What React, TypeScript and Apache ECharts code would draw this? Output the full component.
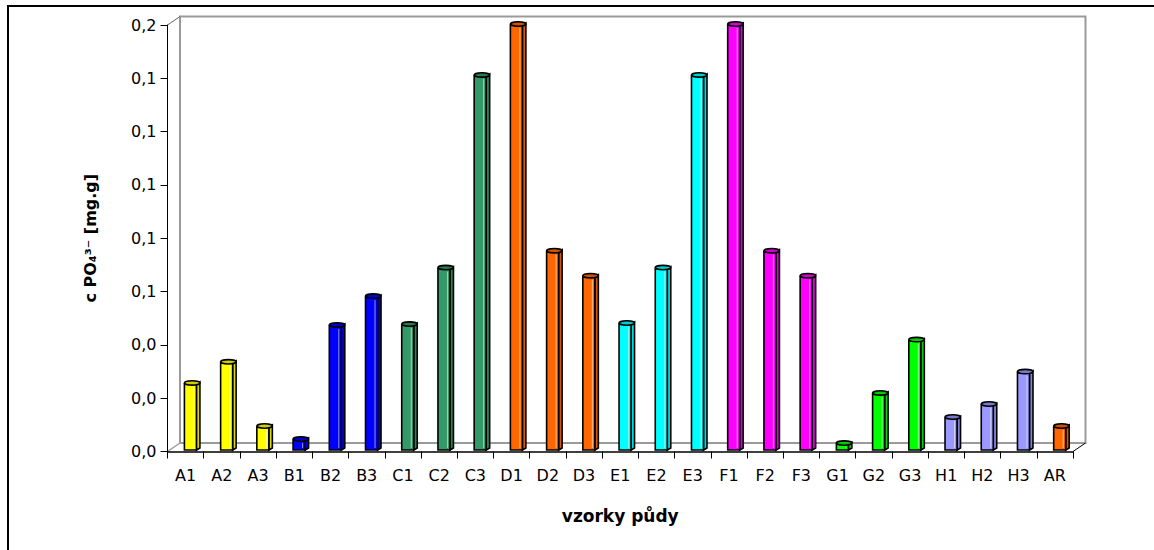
import React, { useEffect, useRef } from "react";
import * as echarts from "echarts";

// Soil samples and measured phosphate content (mg per g)
const categories = [
  "A1", "A2", "A3", "B1", "B2", "B3", "C1", "C2", "C3",
  "D1", "D2", "D3", "E1", "E2", "E3", "F1", "F2", "F3",
  "G1", "G2", "G3", "H1", "H2", "H3", "AR",
];
const values = [
  0.0317, 0.0416, 0.0115, 0.0054, 0.0589, 0.0724, 0.0593, 0.0858, 0.1761,
  0.2, 0.0937, 0.082, 0.0598, 0.0858, 0.1761, 0.2, 0.0937, 0.082,
  0.0035, 0.027, 0.052, 0.0157, 0.0218, 0.037, 0.0115,
];
const yTickLabels = ["0,0", "0,0", "0,0", "0,1", "0,1", "0,1", "0,1", "0,1", "0,2"];
const Y_STEP = 0.025;

// One colour per sample group
const groupColors: Record<string, string> = {
  A: "#FFFF00",
  B: "#0000FF",
  C: "#339966",
  D: "#FF6600",
  E: "#00FFFF",
  F: "#FF00FF",
  G: "#00FF00",
  H: "#9999FF",
  AR: "#FF6600",
};

const colorFor = (cat: string) => groupColors[cat] ?? groupColors[cat[0]];

function darken(hex: string, f: number) {
  const n = parseInt(hex.slice(1), 16);
  const r = Math.round(((n >> 16) & 255) * f);
  const g = Math.round(((n >> 8) & 255) * f);
  const b = Math.round((n & 255) * f);
  return `rgb(${r},${g},${b})`;
}

// Plot area and the 3D depth of the walls
const W = 1154;
const H = 550;
const GRID_L = 167.5;
const GRID_R = 1073;
const GRID_T = 25;
const GRID_B = 451.5;
const DX = 12.5;
const DY = -8.5;

const FONT = "'DejaVu Sans', 'Liberation Sans', Arial, sans-serif";

export default function App() {
  const ref = useRef<HTMLDivElement>(null);

  useEffect(() => {
    if (!ref.current) return;
    const chart = echarts.init(ref.current, undefined, { renderer: "svg" });

    const wall = { stroke: "#9a9a9a", lineWidth: 2, fill: "none" };

    const option: any = {
      animation: false,
      backgroundColor: "#ffffff",
      grid: {
        left: GRID_L,
        right: W - GRID_R,
        top: GRID_T,
        bottom: H - GRID_B,
        containLabel: false,
      },
      xAxis: {
        type: "category",
        data: categories,
        boundaryGap: true,
        name: "vzorky půdy",
        nameLocation: "middle",
        nameGap: 56,
        nameTextStyle: { fontFamily: FONT, fontSize: 17, fontWeight: "bold", color: "#000" },
        axisLine: { lineStyle: { color: "#000", width: 1.5 } },
        axisTick: { show: true, length: 7, lineStyle: { color: "#000", width: 1 } },
        axisLabel: { fontFamily: FONT, fontSize: 16, color: "#000", margin: 16, interval: 0 },
        splitLine: { show: false },
      },
      yAxis: {
        type: "value",
        min: 0,
        max: 0.2,
        interval: Y_STEP,
        name: "c PO₄³⁻ [mg.g]",
        nameLocation: "middle",
        nameRotate: 90,
        nameGap: 69,
        nameTextStyle: { fontFamily: FONT, fontSize: 16, fontWeight: "bold", color: "#000" },
        axisLine: { show: true, lineStyle: { color: "#000", width: 1 } },
        axisTick: { show: true, length: 7, lineStyle: { color: "#000", width: 1 } },
        axisLabel: {
          fontFamily: FONT,
          fontSize: 16,
          color: "#000",
          margin: 11,
          formatter: (v: number) => yTickLabels[Math.round(v / Y_STEP)] ?? "",
        },
        splitLine: { show: false },
      },
      graphic: [
        // outer chart border
        {
          type: "rect",
          z: -10,
          shape: { x: 8, y: 6, width: W + 20, height: H + 20 },
          style: { fill: "none", stroke: "#000", lineWidth: 2 },
        },
        // back wall
        {
          type: "rect",
          z: -5,
          shape: { x: GRID_L + DX, y: GRID_T + DY, width: GRID_R - GRID_L, height: GRID_B - GRID_T },
          style: wall,
        },
        // top-left depth edge
        {
          type: "line",
          z: -5,
          shape: { x1: GRID_L, y1: GRID_T, x2: GRID_L + DX, y2: GRID_T + DY },
          style: { stroke: "#666", lineWidth: 1 },
        },
        // bottom-left depth edge
        {
          type: "line",
          z: -5,
          shape: { x1: GRID_L, y1: GRID_B, x2: GRID_L + DX, y2: GRID_B + DY },
          style: { stroke: "#9a9a9a", lineWidth: 1.5 },
        },
        // bottom-right depth edge
        {
          type: "line",
          z: -5,
          shape: { x1: GRID_R, y1: GRID_B, x2: GRID_R + DX, y2: GRID_B + DY },
          style: { stroke: "#000", lineWidth: 1 },
        },
      ],
      series: [
        {
          type: "custom",
          clip: false,
          data: values.map((v, i) => ({
            value: [i, v],
            itemStyle: { color: colorFor(categories[i]) },
          })),
          renderItem: (params: any, api: any) => {
            const idx = api.value(0);
            const v = api.value(1);
            const base = api.coord([idx, 0]);
            const top = api.coord([idx, v]);
            const color = api.visual("color") as string;
            const cx = base[0];
            const fw = 12;
            const sw = 3.5;
            const sd = 2;
            const x0 = cx - 1.2;
            const x1 = x0 + fw;
            const x2 = x1 + sw;
            const yb = base[1] - 1.5;
            const yt = Math.min(top[1], yb - 2);
            const stroke = { stroke: "#000", lineWidth: 1.6 };
            return {
              type: "group",
              children: [
                {
                  type: "polygon",
                  shape: { points: [[x1, yt], [x2, yt - sd], [x2, yb - sd], [x1, yb]] },
                  style: { fill: darken(color, 0.85), ...stroke },
                },
                {
                  type: "rect",
                  shape: { x: x0, y: yt, width: fw, height: yb - yt },
                  style: { fill: color, ...stroke },
                },
                {
                  type: "line",
                  shape: { x1: x1 - 2.5, y1: yt + 3, x2: x1 - 2.5, y2: yb - 2 },
                  style: { stroke: "rgba(255,255,255,0.55)", lineWidth: 1 },
                },
                {
                  type: "ellipse",
                  shape: { cx: (x0 + x2) / 2, cy: yt - sd / 2, rx: (x2 - x0) / 2, ry: 2.2 },
                  style: { fill: darken(color, 0.8), ...stroke },
                },
              ],
            };
          },
        },
      ],
    };

    chart.setOption(option);
    return () => chart.dispose();
  }, []);

  return (
    <div
      ref={ref}
      style={{ position: "fixed", left: 0, top: 0, width: W, height: H, background: "#fff" }}
    />
  );
}
